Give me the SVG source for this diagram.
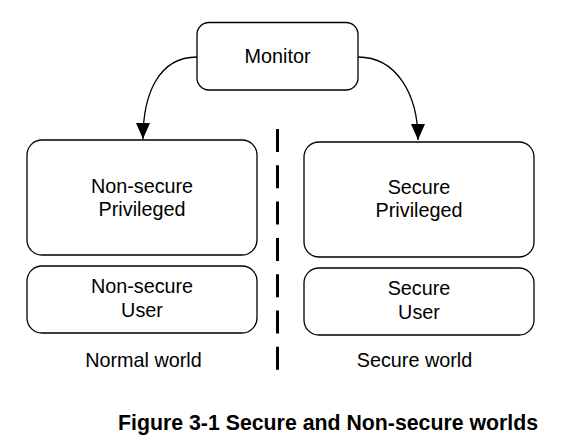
<svg xmlns="http://www.w3.org/2000/svg" width="572" height="447" viewBox="0 0 572 447">
<style>
.box{fill:#fff;stroke:#000;stroke-width:1.3}
.t{font-family:"Liberation Sans",Arial,sans-serif;font-size:19.8px;fill:#000;text-anchor:middle}
.cap{font-family:"Liberation Sans",Arial,sans-serif;font-size:21.3px;font-weight:bold;fill:#000}
.conn{fill:none;stroke:#000;stroke-width:1.3}
</style>
<defs>
<marker id="ah" viewBox="0 0 16 14" refX="16" refY="7" markerWidth="16" markerHeight="14" orient="auto" markerUnits="userSpaceOnUse">
<path d="M0,0 L16,7 L0,14 z" fill="#000"/>
</marker>
</defs>
<rect width="572" height="447" fill="#fff"/>
<g id="connectors">
<path class="conn" d="M197,57 C158,57 143,95 143,139" marker-end="url(#ah)"/>
<path class="conn" d="M358,57 C397,57 418,95 418,140" marker-end="url(#ah)"/>
<line x1="277.5" y1="129" x2="277.5" y2="370" stroke="#000" stroke-width="3" stroke-dasharray="23 13.3"/>
</g>
<g id="monitor">
<rect class="box" x="197" y="22.5" width="161" height="67.5" rx="12"/>
<text class="t" x="277.5" y="62.5">Monitor</text>
</g>
<g id="ns-priv">
<rect class="box" x="27" y="140" width="230" height="115" rx="15"/>
<text class="t" x="142" y="192.5">Non-secure</text>
<text class="t" x="142" y="215.5">Privileged</text>
</g>
<g id="ns-user">
<rect class="box" x="27" y="266" width="230" height="67" rx="15"/>
<text class="t" x="142" y="292.5">Non-secure</text>
<text class="t" x="142" y="316.5">User</text>
</g>
<g id="s-priv">
<rect class="box" x="304" y="142" width="230" height="115" rx="15"/>
<text class="t" x="419" y="193.5">Secure</text>
<text class="t" x="419" y="216.5">Privileged</text>
</g>
<g id="s-user">
<rect class="box" x="304" y="268" width="230" height="67" rx="15"/>
<text class="t" x="419" y="295">Secure</text>
<text class="t" x="419" y="318.5">User</text>
</g>
<text class="t" x="143.5" y="366.5">Normal world</text>
<text class="t" x="414.5" y="366.5">Secure world</text>
<text class="cap" x="118" y="430">Figure 3-1 Secure and Non-secure worlds</text>
</svg>
